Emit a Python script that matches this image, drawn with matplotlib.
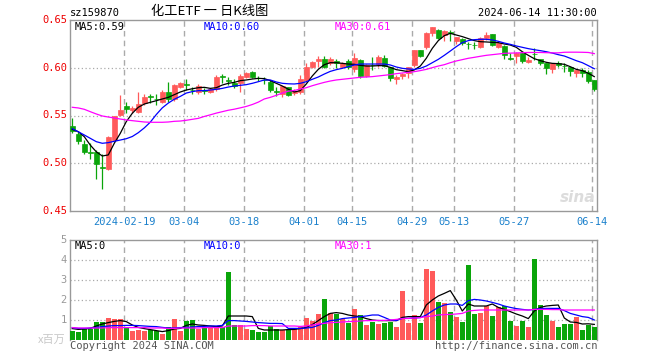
import numpy as np
import matplotlib
matplotlib.use("Agg")
import matplotlib.pyplot as plt

# daily candles, 2024-01-29 .. 2024-06-14 (one entry per trading day)
opens = [0.539, 0.531, 0.520, 0.512, 0.5115, 0.496, 0.494, 0.524, 0.5505, 0.5603,
         0.5555, 0.554, 0.5627, 0.5704, 0.5675, 0.5645, 0.5746, 0.567, 0.580, 0.583,
         0.5772, 0.575, 0.5765, 0.575, 0.5774, 0.591, 0.587, 0.5844, 0.5844, 0.590,
         0.596, 0.5893, 0.5875, 0.585, 0.5755, 0.5725, 0.5795, 0.5735, 0.575, 0.587,
         0.601, 0.607, 0.609, 0.6046, 0.6074, 0.601, 0.6074, 0.5983, 0.6085, 0.591,
         0.6032, 0.604, 0.6105, 0.601, 0.588, 0.591, 0.595, 0.6029, 0.6186, 0.6214,
         0.6367, 0.640, 0.6343, 0.637, 0.6284, 0.6297, 0.6252, 0.624, 0.622, 0.6308,
         0.6353, 0.622, 0.6228, 0.6106, 0.6123, 0.615, 0.606, 0.6148, 0.6088, 0.6046,
         0.5987, 0.6053, 0.602, 0.6011, 0.5942, 0.5977, 0.5959, 0.5872]
closes = [0.534, 0.523, 0.512, 0.511, 0.499, 0.4955, 0.528, 0.5495, 0.5558, 0.5568,
          0.5575, 0.5625, 0.5697, 0.569, 0.567, 0.5746, 0.567, 0.582, 0.5844, 0.5822,
          0.5765, 0.581, 0.5758, 0.5774, 0.590, 0.590, 0.586, 0.581, 0.5914, 0.5949,
          0.590, 0.5889, 0.587, 0.5765, 0.575, 0.5805, 0.5712, 0.576, 0.588, 0.601,
          0.606, 0.609, 0.601, 0.609, 0.6046, 0.6053, 0.6004, 0.6099, 0.591, 0.603,
          0.6026, 0.6116, 0.602, 0.589, 0.5907, 0.5938, 0.6005, 0.6186, 0.6123, 0.636,
          0.643, 0.631, 0.6388, 0.6365, 0.6318, 0.6256, 0.6247, 0.6236, 0.6308, 0.6343,
          0.6238, 0.6263, 0.6134, 0.6095, 0.615, 0.6074, 0.6081, 0.6142, 0.6046, 0.5994,
          0.6046, 0.6025, 0.6015, 0.597, 0.5977, 0.5949, 0.5865, 0.5774]
highs = [0.547, 0.533, 0.524, 0.521, 0.514, 0.510, 0.5285, 0.550, 0.5715, 0.5645,
         0.5603, 0.575, 0.572, 0.573, 0.573, 0.577, 0.585, 0.583, 0.585, 0.5879,
         0.580, 0.583, 0.579, 0.579, 0.592, 0.593, 0.590, 0.588, 0.593, 0.596,
         0.597, 0.5914, 0.5905, 0.587, 0.580, 0.581, 0.580, 0.5775, 0.592, 0.605,
         0.607, 0.6125, 0.6125, 0.6116, 0.609, 0.606, 0.609, 0.615, 0.609, 0.6035,
         0.611, 0.6135, 0.6135, 0.601, 0.592, 0.595, 0.601, 0.619, 0.619, 0.637,
         0.643, 0.641, 0.640, 0.6395, 0.6318, 0.6308, 0.6273, 0.6273, 0.6325, 0.6378,
         0.6355, 0.628, 0.6235, 0.615, 0.616, 0.6168, 0.6116, 0.6203, 0.609, 0.6046,
         0.6046, 0.6074, 0.6046, 0.6011, 0.5977, 0.5994, 0.5977, 0.5872]
lows = [0.532, 0.520, 0.510, 0.504, 0.483, 0.473, 0.4925, 0.523, 0.550, 0.5523,
        0.5523, 0.553, 0.561, 0.563, 0.561, 0.563, 0.5645, 0.565, 0.579, 0.5767,
        0.573, 0.573, 0.573, 0.574, 0.576, 0.584, 0.582, 0.579, 0.575, 0.589,
        0.589, 0.5865, 0.5828, 0.575, 0.570, 0.569, 0.570, 0.5715, 0.5725, 0.585,
        0.600, 0.601, 0.5995, 0.603, 0.5995, 0.600, 0.599, 0.596, 0.589, 0.590,
        0.598, 0.601, 0.601, 0.5865, 0.583, 0.588, 0.589, 0.601, 0.611, 0.620,
        0.633, 0.630, 0.628, 0.6275, 0.625, 0.6238, 0.6193, 0.6193, 0.6203, 0.629,
        0.623, 0.621, 0.6088, 0.608, 0.6046, 0.6053, 0.6046, 0.6081, 0.603, 0.5935,
        0.5942, 0.601, 0.5959, 0.5914, 0.590, 0.5907, 0.5844, 0.576]

ma5 = [0.5355, 0.533, 0.5278, 0.519, 0.512, 0.5076, 0.5087, 0.5209, 0.5313, 0.5436,
       0.5523, 0.5586, 0.562, 0.5638, 0.5655, 0.5673, 0.569, 0.5718, 0.5746, 0.5767,
       0.578, 0.5791, 0.5795, 0.5784, 0.5791, 0.5819, 0.5837, 0.5847, 0.5865, 0.5872,
       0.5882, 0.5889, 0.5886, 0.5865, 0.5837, 0.5809, 0.5775, 0.5746, 0.576, 0.583,
       0.5914, 0.5983, 0.6032, 0.6053, 0.6053, 0.6046, 0.6039, 0.6036, 0.6025, 0.6018,
       0.6018, 0.6022, 0.6022, 0.6004, 0.598, 0.597, 0.5959, 0.5977, 0.6018, 0.6099,
       0.6203, 0.6284, 0.6336, 0.636, 0.6343, 0.6326, 0.6305, 0.6284, 0.6273, 0.627,
       0.6266, 0.6263, 0.6249, 0.6238, 0.6214, 0.6168, 0.613, 0.6095, 0.6074, 0.6057,
       0.6046, 0.6043, 0.6036, 0.6011, 0.5983, 0.597, 0.5942, 0.5907]
ma10 = [0.5362, 0.533, 0.5296, 0.5261, 0.5226, 0.5209, 0.5216, 0.523, 0.5243, 0.5257,
        0.528, 0.532, 0.537, 0.543, 0.551, 0.558, 0.563, 0.567, 0.570, 0.5735,
        0.575, 0.576, 0.576, 0.5767, 0.5774, 0.5784, 0.5798, 0.5809, 0.5816, 0.5823,
        0.5837, 0.5854, 0.5872, 0.5872, 0.5851, 0.5837, 0.5832, 0.583, 0.5837, 0.5854,
        0.5879, 0.5903, 0.5934, 0.5962, 0.598, 0.5994, 0.6011, 0.6029, 0.6039, 0.6039,
        0.6039, 0.6039, 0.6039, 0.6029, 0.6008, 0.5994, 0.5987, 0.5983, 0.5994, 0.6018,
        0.6053, 0.6088, 0.613, 0.6175, 0.6221, 0.6263, 0.6284, 0.6294, 0.6298, 0.6298,
        0.6291, 0.6277, 0.6259, 0.6245, 0.6228, 0.6214, 0.620, 0.6189, 0.6179, 0.6168,
        0.6154, 0.6137, 0.6123, 0.6099, 0.6074, 0.6053, 0.6022, 0.599]
ma30 = [0.5586, 0.5579, 0.5565, 0.554, 0.5516, 0.5495, 0.5484, 0.5474, 0.5463, 0.5453,
        0.5446, 0.5439, 0.5432, 0.5429, 0.5429, 0.5429, 0.5432, 0.5439, 0.5442, 0.545,
        0.546, 0.547, 0.549, 0.5507, 0.5525, 0.554, 0.5555, 0.5566, 0.558, 0.5595,
        0.5615, 0.564, 0.5673, 0.569, 0.5711, 0.5735, 0.5755, 0.5762, 0.5777, 0.5791,
        0.5812, 0.583, 0.5847, 0.5861, 0.5872, 0.5879, 0.5886, 0.5893, 0.590, 0.5903,
        0.5907, 0.5914, 0.5921, 0.5928, 0.5938, 0.5945, 0.5952, 0.5959, 0.597, 0.5983,
        0.6001, 0.6018, 0.6032, 0.6053, 0.6071, 0.6085, 0.6099, 0.6109, 0.612, 0.613,
        0.6137, 0.6144, 0.6151, 0.6153, 0.6155, 0.6158, 0.616, 0.616, 0.616, 0.6158,
        0.6156, 0.6156, 0.6162, 0.6163, 0.6163, 0.6162, 0.616, 0.6148]

# volume in millions of shares
volume = [0.47, 0.42, 0.53, 0.53, 0.9, 0.9, 1.12, 1.03, 1.07, 0.67,
          0.47, 0.52, 0.47, 0.5, 0.47, 0.3, 0.67, 1.05, 0.47, 0.97,
          1.0, 0.57, 0.63, 0.67, 0.67, 0.63, 3.4, 0.73, 0.73, 0.57,
          0.5, 0.4, 0.42, 0.7, 0.55, 0.5, 0.53, 0.53, 0.67, 1.1,
          0.97, 1.3, 2.05, 1.33, 1.3, 1.03, 0.87, 1.55, 1.25, 0.75,
          0.92, 0.8, 0.87, 0.92, 0.67, 2.47, 0.87, 1.25, 0.87, 3.57,
          3.47, 1.92, 1.83, 1.4, 1.17, 0.9, 3.75, 1.32, 1.37, 1.7,
          1.22, 1.63, 1.7, 0.97, 0.72, 0.97, 0.67, 4.05, 1.77, 1.27,
          0.97, 0.67, 0.8, 0.8, 1.17, 0.5, 0.77, 0.67]
vol_ma5 = [0.57, 0.53, 0.55, 0.58, 0.7, 0.8, 0.87, 0.93, 0.97, 0.92,
           0.75, 0.63, 0.57, 0.52, 0.47, 0.42, 0.47, 0.55, 0.58, 0.73,
           0.8, 0.75, 0.73, 0.7, 0.67, 0.7, 1.2, 1.2, 1.2, 1.2,
           1.17, 0.58, 0.5, 0.5, 0.5, 0.5, 0.52, 0.53, 0.57, 0.63,
           0.77, 0.97, 1.17, 1.33, 1.37, 1.33, 1.25, 1.2, 1.17, 1.07,
           1.0, 0.97, 0.97, 0.97, 0.97, 1.13, 1.17, 1.17, 1.17, 1.75,
           2.0, 2.2, 2.33, 2.47, 2.0, 1.45, 1.8, 1.7, 1.7, 1.7,
           1.8, 1.63, 1.53, 1.42, 1.3, 1.2, 1.07, 1.45, 1.63, 1.7,
           1.73, 1.75, 1.1, 0.9, 0.88, 0.8, 0.81, 0.78]
vol_ma10 = [0.62, 0.58, 0.58, 0.6, 0.63, 0.67, 0.7, 0.72, 0.72, 0.73,
            0.73, 0.72, 0.7, 0.68, 0.67, 0.63, 0.6, 0.6, 0.62, 0.63,
            0.65, 0.67, 0.68, 0.7, 0.7, 0.73, 0.97, 0.97, 0.95, 0.93,
            0.9, 0.87, 0.85, 0.83, 0.83, 0.82, 0.58, 0.58, 0.58, 0.6,
            0.63, 0.73, 0.87, 0.97, 1.0, 1.07, 1.1, 1.13, 1.17, 1.2,
            1.25, 1.25, 1.13, 1.0, 0.97, 1.08, 1.08, 1.1, 1.12, 1.25,
            1.45, 1.63, 1.75, 1.8, 1.8, 1.73, 1.97, 2.03, 2.0, 1.95,
            1.88, 1.8, 1.7, 1.63, 1.57, 1.53, 1.5, 1.53, 1.57, 1.58,
            1.58, 1.58, 1.47, 1.33, 1.25, 1.17, 1.13, 1.0]
vol_ma30 = [0.62, 0.6, 0.6, 0.6, 0.6, 0.6, 0.62, 0.62, 0.62, 0.62,
            0.62, 0.62, 0.62, 0.6, 0.6, 0.6, 0.58, 0.58, 0.6, 0.6,
            0.6, 0.6, 0.62, 0.62, 0.62, 0.62, 0.7, 0.7, 0.7, 0.7,
            0.72, 0.72, 0.72, 0.7, 0.7, 0.7, 0.7, 0.7, 0.68, 0.7,
            0.75, 0.8, 0.83, 0.87, 0.88, 0.9, 0.92, 0.93, 0.95, 0.97,
            0.97, 0.98, 0.98, 1.0, 1.03, 1.07, 1.08, 1.1, 1.12, 1.17,
            1.2, 1.25, 1.27, 1.28, 1.3, 1.33, 1.45, 1.48, 1.5, 1.5,
            1.5, 1.5, 1.5, 1.5, 1.5, 1.5, 1.5, 1.53, 1.53, 1.53,
            1.52, 1.52, 1.5, 1.5, 1.5, 1.5, 1.5, 1.5]

tick_days = [9, 19, 29, 39, 47, 57, 64, 74, 87]
tick_labels = ["2024-02-19", "03-04", "03-18", "04-01", "04-15",
               "04-29", "05-13", "05-27", "06-14"]
price_ticks = [0.65, 0.60, 0.55, 0.50, 0.45]
vol_ticks = [1, 2, 3, 4, 5]

RED = "#ff5a5a"
GREEN = "#0aa50a"
GRID = "#aaaaaa"
MONO = "DejaVu Sans Mono"

W, H = 660, 360
fig = plt.figure(figsize=(W / 100, H / 100), dpi=100)


def px(x, y):
    return x / W, 1 - y / H


ax = fig.add_axes([70 / W, 1 - 211 / H, 527 / W, 191 / H])
axv = fig.add_axes([70 / W, 1 - 340 / H, 527 / W, 100 / H])

x = np.arange(len(closes))
o = np.array(opens)
c = np.array(closes)
up = c >= o
colors = np.where(up, RED, GREEN)

# candles
ax.vlines(x, lows, highs, colors=colors, linewidth=0.9, zorder=3)
body_lo = np.minimum(o, c)
body_h = np.maximum(np.abs(c - o), 0.0004)
ax.bar(x, body_h, bottom=body_lo, width=0.8, color=colors,
       edgecolor=colors, linewidth=0.5, zorder=4)
ax.plot(x, ma5, color="black", lw=0.9, zorder=5)
ax.plot(x, ma10, color="#0000ff", lw=0.9, zorder=5)
ax.plot(x, ma30, color="#ff00ff", lw=0.9, zorder=5)

# volume
axv.bar(x, volume, width=0.8, color=colors, zorder=3)
axv.plot(x, vol_ma5, color="black", lw=0.9, zorder=5)
axv.plot(x, vol_ma10, color="#0000ff", lw=0.9, zorder=5)
axv.plot(x, vol_ma30, color="#ff00ff", lw=0.9, zorder=5)

for a, lo, hi, grid_y in [(ax, 0.45, 0.65, [0.60, 0.55, 0.50]),
                          (axv, 0, 5, [1, 2, 3, 4])]:
    a.set_xlim(-0.38, 87.45)
    a.set_ylim(lo, hi)
    a.set_xticks([])
    a.set_yticks([])
    for gy in grid_y:
        a.axhline(gy, color=GRID, lw=0.9, ls=(0, (1, 2)), zorder=1)
    for t in tick_days:
        a.axvline(t - 0.35, color=GRID, lw=1, ls=(0, (4, 3)), zorder=1)
    for s in a.spines.values():
        s.set_color("#999999")
        s.set_linewidth(1)
axv.spines["bottom"].set_visible(False)

# axis labels drawn as text, like the original
for p in price_ticks:
    ax.text(-0.9, p, f"{p:.2f}", color="#ee0000", fontsize=7.5, family=MONO,
            ha="right", va="center", transform=ax.transData, clip_on=False)
for v in vol_ticks:
    axv.text(-0.9, v, str(v), color="#999999", fontsize=7.5, family=MONO,
             ha="right", va="center", clip_on=False)
for t, lab in zip(tick_days, tick_labels):
    ax.text(t - 0.35, 0.45 - 0.0115, lab, color="#1a80cc", fontsize=7.5,
            family=MONO, ha="center", va="center", clip_on=False)

fig.text(*px(70, 13), "sz159870", fontsize=7.5, family=MONO, va="center")
fig.text(*px(210, 12), "化工ETF 一 日K线图", fontsize=9.5,
         family=["Noto Sans CJK SC", "DejaVu Sans"], ha="center", va="center")
fig.text(*px(597, 13), "2024-06-14 11:30:00", fontsize=7.5, family=MONO,
         ha="right", va="center")

fig.text(*px(75, 27), "MA5:0.59", fontsize=7.5, family=MONO, va="center")
fig.text(*px(204, 27), "MA10:0.60", fontsize=7.5, family=MONO, va="center",
         color="#0000ff")
fig.text(*px(335, 27), "MA30:0.61", fontsize=7.5, family=MONO, va="center",
         color="#ff00ff")
fig.text(*px(75, 246), "MA5:0", fontsize=7.5, family=MONO, va="center")
fig.text(*px(204, 246), "MA10:0", fontsize=7.5, family=MONO, va="center",
         color="#0000ff")
fig.text(*px(335, 246), "MA30:1", fontsize=7.5, family=MONO, va="center",
         color="#ff00ff")

fig.text(*px(66, 340), "x百万", fontsize=8, color="#c8c8c8",
         family=["Noto Sans CJK SC", "DejaVu Sans"], ha="right", va="center")
fig.text(*px(70, 346), "Copyright 2024 SINA.COM", fontsize=7.5, family=MONO,
         color="#555555", va="center")
fig.text(*px(597, 346), "http://finance.sina.com.cn", fontsize=7.5,
         family=MONO, color="#555555", ha="right", va="center")
fig.text(*px(595, 197), "sina", fontsize=11, color="#dcdcdc", style="italic",
         weight="bold", ha="right", va="center")

fig.savefig("out.png", dpi=100)
